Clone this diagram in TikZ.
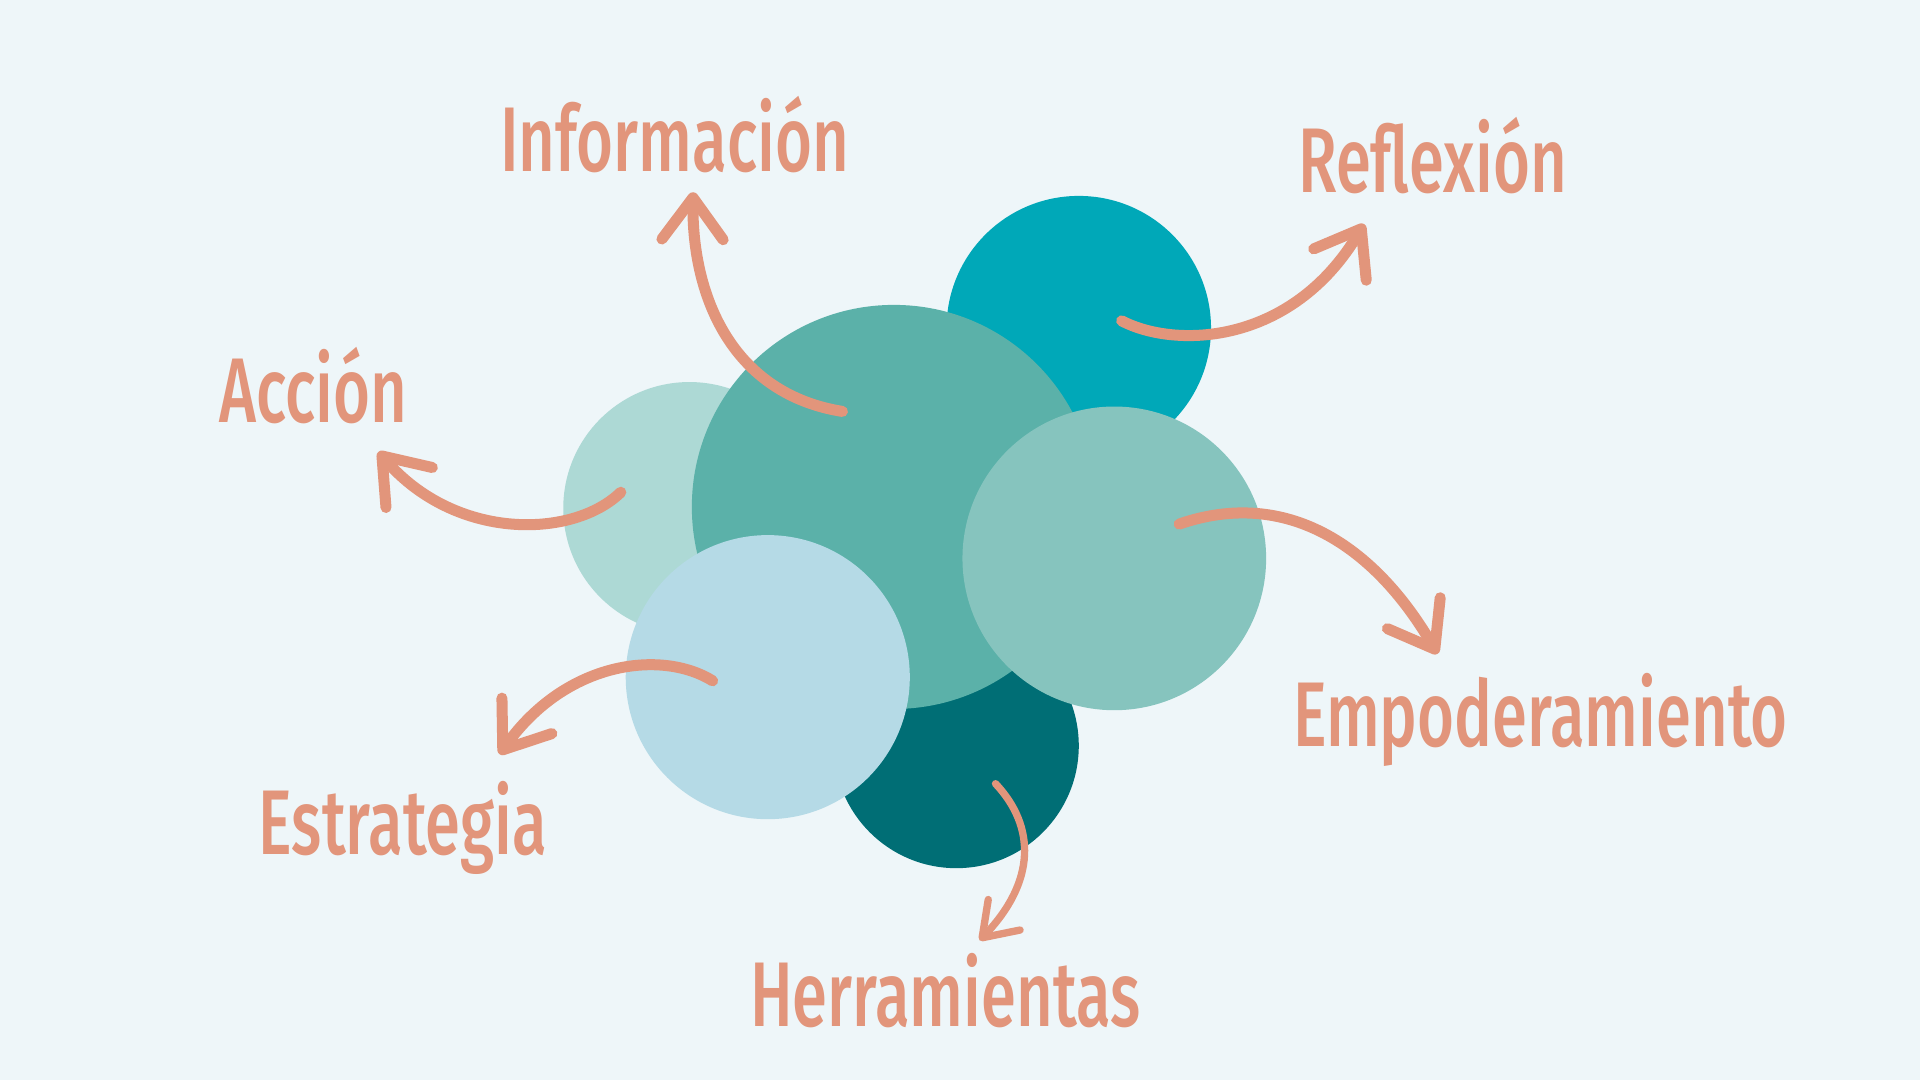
\documentclass[tikz,border=0pt]{standalone}
\usepackage{fontspec}
\setmainfont{Fira Sans}[UprightFont=* Medium]
\usetikzlibrary{arrows.meta}
\definecolor{bgc}{HTML}{EEF6F9}
\definecolor{salmon}{HTML}{E2957B}
\definecolor{tealA}{HTML}{00A8B8}
\definecolor{tealMid}{HTML}{5BB1A9}
\definecolor{tealLeft}{HTML}{ADD9D5}
\definecolor{tealRight}{HTML}{86C4BE}
\definecolor{tealDark}{HTML}{006E75}
\definecolor{blueLight}{HTML}{B5DAE6}
\newcommand{\squeezetext}[1]{\scalebox{0.69}[1]{#1}}
\tikzset{
  lbl/.style={text=salmon, font=\fontsize{75}{80}\selectfont, inner sep=0pt, anchor=base},
  bubble/.style={circle, inner sep=0pt, minimum size=#1},
  brush/.style={draw=salmon, line width=9pt, line cap=round, line join=round,
    -{Straight Barb[length=34pt,width=50pt,round]}},
  thinbrush/.style={draw=salmon, line width=6pt, line cap=round, line join=round,
    -{Straight Barb[length=26pt,width=36pt,round]}}
}
\begin{document}
\begin{tikzpicture}[x=1pt,y=-1pt]
\fill[bgc] (0,0) rectangle (1568,882);
\useasboundingbox (0,0) rectangle (1568,882);
% bubbles
\node[bubble=216pt, fill=tealA] (tr) at (881,268) {};
\node[bubble=206pt, fill=tealLeft] (lf) at (563,415) {};
\node[bubble=200pt, fill=tealDark] (dk) at (781,609) {};
\node[bubble=330pt, fill=tealMid] (md) at (730,414) {};
\node[bubble=248pt, fill=tealRight] (rt) at (910,456) {};
\node[bubble=232pt, fill=blueLight] (bl) at (627,553) {};
% labels
\node[lbl] (info) at (551,140) {\squeezetext{Informaci\'on}};
\node[lbl] (refl) at (1170,157) {\squeezetext{Reflexi\'on}};
\node[lbl] (acc) at (256,345) {\squeezetext{Acci\'on}};
\node[lbl] (empo) at (1258,610) {\squeezetext{Empoderamiento}};
\node[lbl] (estr) at (329,698) {\squeezetext{Estrategia}};
\node[lbl] (herr) at (772,838) {\squeezetext{Herramientas}};
% arrow end points
\coordinate (s1) at (688,336); \coordinate (e1) at (566,157);
\coordinate (s2) at (916,262); \coordinate (e2) at (1114,183);
\coordinate (s3) at (507,402); \coordinate (e3) at (309,369);
\coordinate (s4) at (963,428); \coordinate (e4) at (1174,534);
\coordinate (s5) at (582,556); \coordinate (e5) at (408,616);
\coordinate (s6) at (813,640); \coordinate (e6) at (800,768);
\draw[brush] (s1) .. controls (600,322) and (565,245) .. (e1);
\draw[brush] (s2) .. controls (960,285) and (1055,282) .. (e2);
\draw[brush] (s3) .. controls (468,440) and (372,442) .. (e3);
\draw[brush] (s4) .. controls (1050,398) and (1122,445) .. (e4);
\draw[brush] (s5) .. controls (540,530) and (462,540) .. (e5);
\draw[thinbrush] (s6) .. controls (846,675) and (846,720) .. (e6);
\end{tikzpicture}
\end{document}
